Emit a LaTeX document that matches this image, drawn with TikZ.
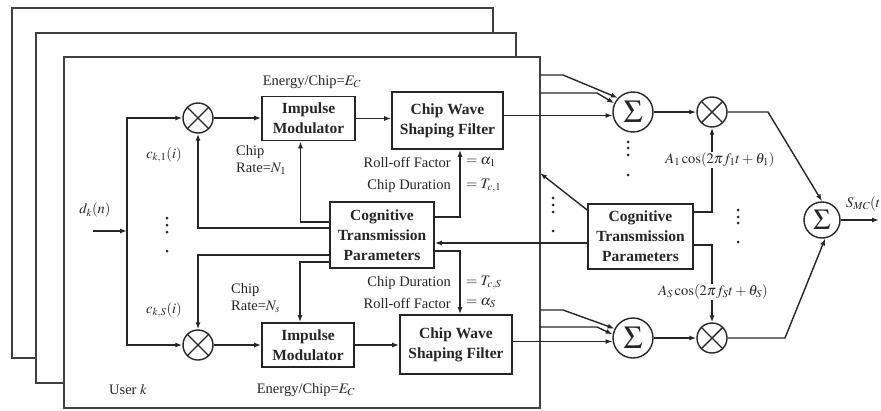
\documentclass[tikz,border=0pt]{standalone}
\usepackage{mathptmx}
\usepackage[no-math]{fontspec}
\setmainfont{Liberation Serif}
\usetikzlibrary{arrows.meta}
\begin{document}
\begin{tikzpicture}[x=1pt,y=-1pt,
  ln/.style={line width=1.4pt, draw=black!85},
  arr/.style={ln,-{Latex[length=7pt,width=5pt]}},
  frame/.style={line width=1.6pt, draw=black!75, fill=white},
  blk/.style={draw=black!85, line width=1.6pt, fill=white, align=center,
    font=\fontsize{15.5}{20}\selectfont\bfseries, text=black!85, inner sep=0pt},
  mul/.style={circle, draw=black!85, line width=1.4pt, minimum size=30pt, inner sep=0pt,
    path picture={\draw[line width=1.4pt, black!85]
      (path picture bounding box.north west) -- (path picture bounding box.south east)
      (path picture bounding box.north east) -- (path picture bounding box.south west);}},
  sum/.style={circle, draw=black!85, line width=1.4pt, minimum size=40pt, inner sep=0pt,
    font=\fontsize{32}{32}\selectfont, text=black!85},
  lab/.style={font=\fontsize{14.5}{17}\selectfont, text=black!85, inner sep=1pt},
  dotc/.style={fill=black!85}
]
\useasboundingbox (0,0) rectangle (881,410);
% stacked user frames
\draw[frame] (12,8) rectangle (493,358);
\draw[frame] (36,33) rectangle (516,383);
\draw[frame] (64,57) rectangle (540,408);

% blocks
\node[mul] (mulA) at (198,118) {};
\node[mul] (mulB) at (198,345) {};
\node[blk, minimum width=93pt, minimum height=44pt] (impA) at (308.5,118.5) {Impulse\\Modulator};
\node[blk, minimum width=111pt, minimum height=57pt] (chipA) at (447.5,120.5) {Chip Wave\\Shaping Filter};
\node[blk, minimum width=104pt, minimum height=66pt] (ctpL) at (382,235) {Cognitive\\Transmission\\Parameters};
\node[blk, minimum width=92pt, minimum height=44pt] (impB) at (308,345) {Impulse\\Modulator};
\node[blk, minimum width=112pt, minimum height=59pt] (chipB) at (456,344.5) {Chip Wave\\Shaping Filter};
\node[blk, minimum width=105pt, minimum height=65pt] (ctpR) at (640.5,236.5) {Cognitive\\Transmission\\Parameters};
\node[sum] (sumA) at (633,112) {$\Sigma$};
\node[sum] (sumB) at (633,338) {$\Sigma$};
\node[mul] (mulC) at (712,112) {};
\node[mul] (mulD) at (712,338) {};
\node[sum, minimum size=36pt, font=\fontsize{29}{29}\selectfont] (sumF) at (822,220) {$\Sigma$};

% input split
\coordinate (din) at (93,231);
\coordinate (split) at (127,231);
\draw[arr] (din) -- (split);
\draw[arr] (split) |- (mulA.west);
\draw[arr] (split) |- (mulB.west);

\draw[arr] (mulA.east) -- (mulA.east -| impA.west);
\draw[arr] (impA.east) -- (impA.east -| chipA.west);
\draw[arr] (mulB.east) -- (mulB.east -| impB.west);
\draw[arr] (impB.east) -- (impB.east -| chipB.west);

% cognitive block (left) feeds
\draw[arr] ([yshift=7pt]ctpL.west) -| (mulA.south);
\draw[arr] ([yshift=13pt]ctpL.west) -| ([xshift=-8pt]impA.south);
\draw[arr] ([yshift=-20pt]ctpL.west) -| (mulB.north);
\draw[arr] ([yshift=-27pt]ctpL.west) -| ([xshift=-8pt]impB.north);
\draw[arr] ([yshift=18pt]ctpL.east) -| ([xshift=12.5pt]chipA.south);
\draw[arr] ([yshift=-16pt]ctpL.east) -| ([xshift=4pt]chipB.north);

% cognitive block (right)
\coordinate (r1) at ([yshift=-6.5pt]ctpR.west);
\draw[arr] (r1) -- (r1 -| ctpL.east);
\coordinate (fr1) at (540,173);
\draw[arr] ([yshift=26.5pt]ctpR.west) -- (fr1);

\node[lab] (carA) at (720,160) {$A_1\cos(2\pi f_1t+\theta_1)$};
\node[lab] (carB) at (713,292) {$A_S\cos(2\pi f_St+\theta_S)$};
\draw[ln] ([yshift=24.5pt]ctpR.east) -| (carA.south -| mulC);
\draw[arr] (carA.north -| mulC) -- (mulC.south);
\draw[ln] ([yshift=-8.5pt]ctpR.east) -| (carB.north -| mulD);
\draw[arr] (carB.south -| mulD) -- (mulD.north);

% summer inputs (top)
\coordinate (ta1) at (540,75); \coordinate (ta1b) at (563,75);
\coordinate (ta2) at (540,93); \coordinate (ta2b) at (597,93);
\coordinate (ta3) at ([yshift=5pt]chipA.east);
\draw[arr] (ta1) -- (ta1b) -- (sumA.137);
\draw[arr] (ta2) -- (ta2b) -- (sumA.155);
\draw[arr] (ta3) -- (ta3 -| sumA.190);
% summer inputs (bottom)
\coordinate (tb1) at (540,310); \coordinate (tb1b) at (563,310);
\coordinate (tb2) at (540,327); \coordinate (tb2b) at (597,327);
\coordinate (tb3) at ([yshift=3pt]chipB.east);
\draw[arr] (tb1) -- (tb1b) -- (sumB.153);
\draw[arr] (tb2) -- (tb2b) -- (sumB.170);
\draw[arr] (tb3) -- (tb3 -| sumB.190);

\draw[arr] (sumA.east) -- (mulC.west);
\draw[arr] (sumB.east) -- (mulD.west);
\coordinate (oc) at (768,112);
\coordinate (od) at (785,338);
\draw[arr] (mulC.east) -- (oc) -- (sumF.north);
\draw[arr] (mulD.east) -- (od) -- (sumF.-80);
\coordinate (out) at (879,220);
\draw[arr] (sumF.east) -- (out);
\node[lab, anchor=west] (smc) at (845,204) {$S_{MC}(t)$};

% labels
\node[lab] (enA) at (312,82) {Energy/Chip=$E_C$};
\node[lab, align=left, anchor=west] (crA) at (235,160) {Chip\\Rate=$N_1$};
\node[lab] (ck1) at (164,155) {$c_{k,1}(i)$};
\node[lab, anchor=east] (rfA) at (452,162) {Roll-off Factor};
\node[lab, anchor=west] (alA) at (465,162) {$=\alpha_1$};
\node[lab, anchor=east] (cdA) at (452,186) {Chip Duration};
\node[lab, anchor=west] (tcA) at (465,186) {$=T_{c,1}$};
\node[lab, anchor=east] (cdB) at (452,283) {Chip Duration};
\node[lab, anchor=west] (tcB) at (465,283) {$=T_{c,S}$};
\node[lab, anchor=east] (rfB) at (452,303) {Roll-off Factor};
\node[lab, anchor=west] (alB) at (465,303) {$=\alpha_S$};
\node[lab] (enB) at (306,390) {Energy/Chip=$E_C$};
\node[lab, align=left, anchor=west] (crB) at (230,298) {Chip\\Rate=$N_s$};
\node[lab] (cks) at (164,310) {$c_{k,S}(i)$};
\node[lab] (usr) at (128,390) {User $k$};
\node[lab] (dk) at (95,210) {$d_k(n)$};

% dots
\foreach \x/\ya/\yb/\yc/\yd in {167/218/225/232/251, 628/142/148/155/175, 553/198/205/212/231, 738/210/217/223/242}{
  \fill[dotc] (\x,\ya) circle (1.5pt);
  \fill[dotc] (\x,\yb) circle (1.5pt);
  \fill[dotc] (\x,\yc) circle (1.5pt);
  \fill[dotc] (\x,\yd) circle (1.5pt);
}
\end{tikzpicture}
\end{document}
